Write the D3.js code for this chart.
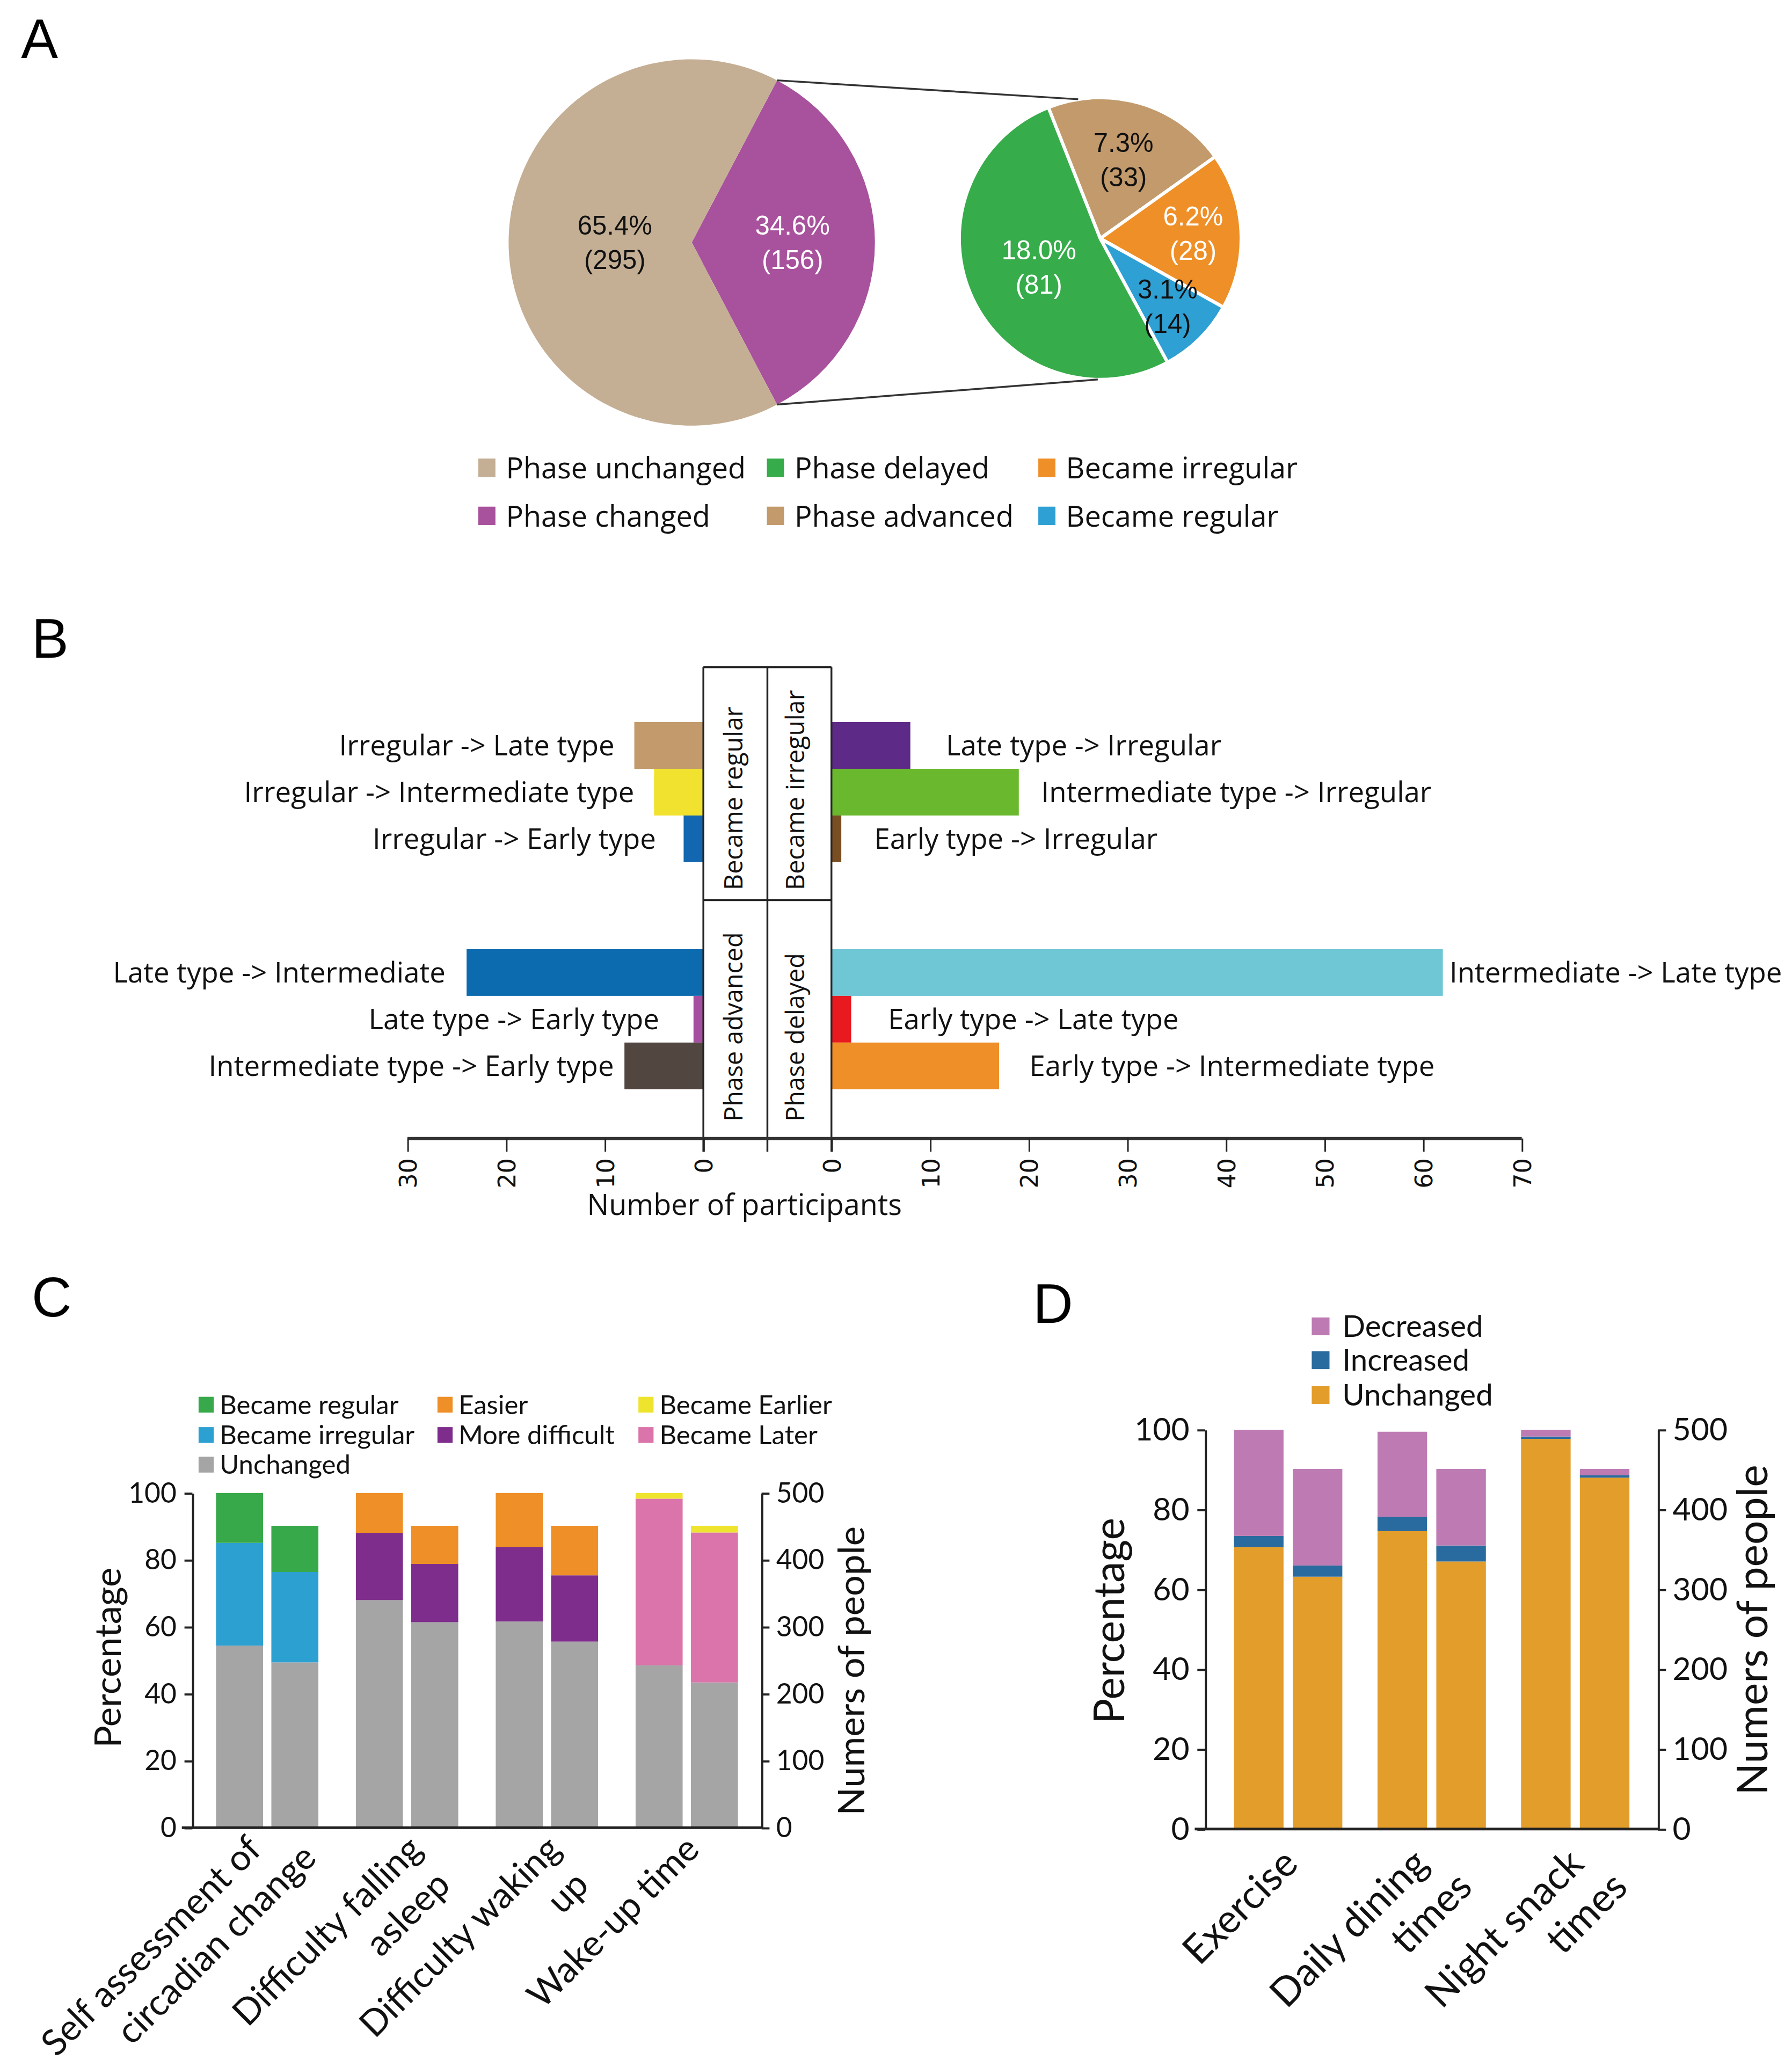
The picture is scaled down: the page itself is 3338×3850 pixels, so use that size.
<!DOCTYPE html>
<html lang="en">
<head>
<meta charset="utf-8">
<script src="https://d3js.org/d3.v7.min.js"></script>
<style>
  body { margin: 0; background: #fff; }
  svg { display: block; }
</style>
</head>
<body>
<div id="my_dataviz"></div>
<script>
// ---------- data ----------
// A: phase change pie and its breakdown
var outerNames = ["Phase changed", "Phase unchanged"];
var outerCounts = [156, 295];
var outerPct = ["34.6%", "65.4%"];
var innerNames = ["Phase advanced", "Became irregular", "Became regular", "Phase delayed"];
var innerCounts = [33, 28, 14, 81];
var innerPct = ["7.3%", "6.2%", "3.1%", "18.0%"];

// B: transitions (number of participants)
var bRegularLabels = ["Irregular -> Late type", "Irregular -> Intermediate type", "Irregular -> Early type"];
var bRegularValues = [7, 5, 2];
var bIrregularLabels = ["Late type -> Irregular", "Intermediate type -> Irregular", "Early type -> Irregular"];
var bIrregularValues = [8, 19, 1];
var bAdvancedLabels = ["Late type -> Intermediate", "Late type -> Early type", "Intermediate type -> Early type"];
var bAdvancedValues = [24, 1, 8];
var bDelayedLabels = ["Intermediate -> Late type", "Early type -> Late type", "Early type -> Intermediate type"];
var bDelayedValues = [62, 2, 17];
var bLeftTicks = [0, 10, 20, 30];
var bRightTicks = [0, 10, 20, 30, 40, 50, 60, 70];

// C: sleep questions, first bar = percentage, second bar = number of people
var cGroups = ["Self assessment of circadian change", "Difficulty falling asleep", "Difficulty waking up", "Wake-up time"];
var cLabelLines = [["Self assessment of", "circadian change"], ["Difficulty falling", "asleep"], ["Difficulty waking", "up"], ["Wake-up time"]];
var cMiddleName = ["Became irregular", "More difficult", "More difficult", "Became Later"];
var cTopName = ["Became regular", "Easier", "Easier", "Became Earlier"];
var cUnchangedPct = [54.4, 68.0, 61.6, 48.5];
var cMiddlePct = [30.7, 20.1, 22.3, 49.8];
var cTopPct = [14.9, 11.9, 16.1, 1.7];
var cUnchangedN = [247, 307, 278, 217];
var cMiddleN = [135, 87, 99, 224];
var cTopN = [69, 57, 74, 10];

// D: lifestyle
var dGroups = ["Exercise", "Daily dining times", "Night snack times"];
var dLabelLines = [["Exercise"], ["Daily dining", "times"], ["Night snack", "times"]];
var dUnchangedPct = [70.6, 74.6, 97.7];
var dIncreasedPct = [2.8, 3.6, 0.6];
var dDecreasedPct = [26.6, 21.3, 1.7];
var dUnchangedN = [316, 335, 440];
var dIncreasedN = [14, 20, 3];
var dDecreasedN = [121, 96, 8];

var pctTicks = [0, 20, 40, 60, 80, 100];
var numTicks = [0, 100, 200, 300, 400, 500];

// ---------- colours ----------
var outerColors = ["#A8519C", "#C4AF95"];
var innerColors = ["#C29A6B", "#EE8F27", "#2FA0D4", "#37AC4B"];
var innerTextColors = ["#111", "#fff", "#111", "#fff"];
var outerTextColors = ["#fff", "#111"];
var bRegularColors = ["#C29A6B", "#F0E22E", "#1267B0"];
var bIrregularColors = ["#5E2A87", "#6AB82E", "#7A4E23"];
var bAdvancedColors = ["#0C6AAF", "#A64FA0", "#524641"];
var bDelayedColors = ["#6FC6D5", "#E8191F", "#EE8F27"];
var cColor = {
  "Became regular": "#37A94A", "Became irregular": "#2DA0D2", "Unchanged": "#A5A5A5",
  "Easier": "#EE8F27", "More difficult": "#7E2D8C",
  "Became Earlier": "#EEE42D", "Became Later": "#DB74AA"
};
var dColor = {"Decreased": "#BE7BB3", "Increased": "#2A6B9F", "Unchanged": "#E39D2B"};

var FONT_A = "'Open Sans', sans-serif";
var FONT_C = "Lato, sans-serif";
var FONT_L = "'Liberation Sans', Arial, sans-serif";

// whole figure drawn in a 1360-wide coordinate system, scaled to 3338 px
var W = 1360, H = 3850 * 1360 / 3338;
var svg = d3.select("#my_dataviz")
  .append("svg")
  .attr("width", 3338)
  .attr("height", 3850)
  .attr("viewBox", "0 0 " + W + " " + H)
  .style("background", "#fff");

// panel letters
[["A", 16, 44], ["B", 24, 499], ["C", 24, 999], ["D", 784, 1004]].forEach(function(p) {
  svg.append("text").attr("x", p[1]).attr("y", p[2]).text(p[0])
    .attr("font-family", FONT_L).attr("font-size", 42).attr("fill", "#000");
});

// ================= A =================
var big = {x: 525, y: 184, r: 139};
var small = {x: 835, y: 181, r: 107};

var a0 = Math.PI / 2 - Math.PI * outerCounts[0] / d3.sum(outerCounts);
var bigArcs = d3.pie().sort(null).startAngle(a0).endAngle(a0 + 2 * Math.PI)(outerCounts);
var s0 = -21.6 * Math.PI / 180;
var smallArcs = d3.pie().sort(null).startAngle(s0).endAngle(s0 + 2 * Math.PI)(innerCounts);

var gBig = svg.append("g").attr("transform", "translate(" + big.x + "," + big.y + ")");
gBig.selectAll("path").data(bigArcs).enter().append("path")
  .attr("d", d3.arc().innerRadius(0).outerRadius(big.r))
  .style("fill", function(d, i) { return outerColors[i]; });

var gSmall = svg.append("g").attr("transform", "translate(" + small.x + "," + small.y + ")");
gSmall.selectAll("path").data(smallArcs).enter().append("path")
  .attr("d", d3.arc().innerRadius(0).outerRadius(small.r))
  .style("fill", function(d, i) { return innerColors[i]; })
  .style("stroke", "#fff").style("stroke-width", 2.5).style("stroke-linejoin", "round");

function pieLabels(g, arcs, R, fracs, pcts, counts, colors) {
  arcs.forEach(function(a, i) {
    var m = (a.startAngle + a.endAngle) / 2;
    var x = Math.sin(m) * R * fracs[i], y = -Math.cos(m) * R * fracs[i];
    g.append("text").attr("x", x).attr("y", y - 6).attr("text-anchor", "middle")
      .attr("font-family", FONT_L).attr("font-size", 20).attr("fill", colors[i]).text(pcts[i]);
    g.append("text").attr("x", x).attr("y", y + 20).attr("text-anchor", "middle")
      .attr("font-family", FONT_L).attr("font-size", 20).attr("fill", colors[i]).text("(" + counts[i] + ")");
  });
}
pieLabels(gBig, bigArcs, big.r, [0.55, 0.42], outerPct, outerCounts, outerTextColors);
pieLabels(gSmall, smallArcs, small.r, [0.58, 0.66, 0.68, 0.48], innerPct, innerCounts, innerTextColors);

// connector lines from the changed slice to the breakdown pie
function onCircle(c, ang) { return [c.x + Math.sin(ang) * c.r, c.y - Math.cos(ang) * c.r]; }
[[onCircle(big, bigArcs[0].startAngle), onCircle(small, -9 * Math.PI / 180)],
 [onCircle(big, bigArcs[0].endAngle), onCircle(small, 181 * Math.PI / 180)]].forEach(function(l) {
  svg.append("line").attr("x1", l[0][0]).attr("y1", l[0][1]).attr("x2", l[1][0]).attr("y2", l[1][1])
    .style("stroke", "#333").style("stroke-width", 1.4);
});

// legend A
var legA = [
  {name: outerNames[1], color: outerColors[1], col: 0, row: 0},
  {name: outerNames[0], color: outerColors[0], col: 0, row: 1},
  {name: innerNames[3], color: innerColors[3], col: 1, row: 0},
  {name: innerNames[0], color: innerColors[0], col: 1, row: 1},
  {name: innerNames[1], color: innerColors[1], col: 2, row: 0},
  {name: innerNames[2], color: innerColors[2], col: 2, row: 1}
];
var legAX = [363, 582, 788], legAY = [363, 399.5];
legA.forEach(function(d) {
  svg.append("rect").attr("x", legAX[d.col]).attr("y", legAY[d.row] - 15)
    .attr("width", 13).attr("height", 14).style("fill", d.color);
  svg.append("text").attr("x", legAX[d.col] + 21).attr("y", legAY[d.row])
    .attr("font-family", FONT_A).attr("font-size", 22).attr("fill", "#111").text(d.name);
});

// ================= B =================
var xl = d3.scaleLinear().domain([0, 30]).range([533.8, 309.2]);
var xr = d3.scaleLinear().domain([0, 70]).range([631, 1154.9]);
var yTop = d3.scaleBand().domain([0, 1, 2]).range([548, 654.3]);
var yBot = d3.scaleBand().domain([0, 1, 2]).range([720.3, 826.6]);
var axisY = 864, boxTop = 506.3, boxMid = 683.1;

function bBars(values, labels, colors, yScale, side, gaps) {
  values.forEach(function(v, i) {
    var x = side < 0 ? xl(v) : xr(0);
    var w = side < 0 ? xl(0) - xl(v) : xr(v) - xr(0);
    svg.append("rect").attr("x", x).attr("y", yScale(i))
      .attr("width", w).attr("height", yScale.bandwidth()).style("fill", colors[i]);
    svg.append("text")
      .attr("x", side < 0 ? xl(v) - gaps[i] : xr(v) + gaps[i])
      .attr("y", yScale(i) + yScale.bandwidth() / 2).attr("dy", "0.35em")
      .attr("text-anchor", side < 0 ? "end" : "start")
      .attr("font-family", FONT_A).attr("font-size", 21.5).attr("fill", "#111")
      .text(labels[i]);
  });
}
bBars(bRegularValues, bRegularLabels, bRegularColors, yTop, -1, [15, 15, 21]);
bBars(bIrregularValues, bIrregularLabels, bIrregularColors, yTop, 1, [27, 17, 25]);
bBars(bAdvancedValues, bAdvancedLabels, bAdvancedColors, yBot, -1, [16, 26, 8]);
bBars(bDelayedValues, bDelayedLabels, bDelayedColors, yBot, 1, [5, 28, 23]);

// the box with the group names
var boxMidX = (xl(0) + xr(0)) / 2;
[xl(0), boxMidX, xr(0)].forEach(function(x) {
  svg.append("line").attr("x1", x).attr("x2", x).attr("y1", boxTop).attr("y2", axisY + 10)
    .style("stroke", "#222").style("stroke-width", 1.4);
});
[boxTop, boxMid].forEach(function(y) {
  svg.append("line").attr("x1", xl(0)).attr("x2", xr(0)).attr("y1", y).attr("y2", y)
    .style("stroke", "#222").style("stroke-width", 1.4);
});
[["Became regular", 563.5, 675.5], ["Became irregular", 610.5, 675.5],
 ["Phase advanced", 563.5, 851], ["Phase delayed", 610.5, 851]].forEach(function(t) {
  svg.append("text").attr("transform", "translate(" + t[1] + "," + t[2] + ") rotate(-90)")
    .attr("font-family", FONT_A).attr("font-size", 19).attr("fill", "#111").text(t[0]);
});

// axis
svg.append("line").attr("x1", xl(30)).attr("x2", xr(70)).attr("y1", axisY).attr("y2", axisY)
  .style("stroke", "#333").style("stroke-width", 2.4);
function bAxis(scale, ticks) {
  var g = svg.append("g").attr("transform", "translate(0," + axisY + ")")
    .call(d3.axisBottom(scale).tickValues(ticks).tickSize(10).tickSizeOuter(0));
  g.select(".domain").remove();
  g.selectAll(".tick line").style("stroke", "#222").style("stroke-width", 1.2);
  g.selectAll(".tick text")
    .attr("transform", "rotate(-90)").attr("text-anchor", "end")
    .attr("x", -15).attr("y", 0).attr("dy", "0.36em")
    .attr("font-family", "'DejaVu Sans', sans-serif").attr("font-size", 18).attr("fill", "#111");
}
bAxis(xl, bLeftTicks);
bAxis(xr, bRightTicks);
svg.append("text").attr("x", 565).attr("y", 922).attr("text-anchor", "middle")
  .attr("font-family", FONT_A).attr("font-size", 22).attr("fill", "#111").text("Number of participants");

// ================= shared for C and D =================
function stackedPanel(opt) {
  var x0 = d3.scaleBand().domain(opt.groups).range([opt.left, opt.right])
    .paddingInner(opt.padIn).paddingOuter(opt.padOut);
  var x1 = d3.scaleBand().domain(["pct", "n"]).range([0, x0.bandwidth()]).paddingInner(opt.padBar);
  var yP = d3.scaleLinear().domain([0, 100]).range([opt.bottom, opt.top]);
  var yN = d3.scaleLinear().domain([0, 500]).range([opt.bottom, opt.top]);

  var series = d3.stack().keys(opt.keys)(opt.rows);
  series.forEach(function(s) {
    svg.append("g").selectAll("rect").data(s).enter().append("rect")
      .attr("x", function(d) { return x0(d.data.group) + x1(d.data.kind); })
      .attr("width", x1.bandwidth())
      .attr("y", function(d) { return (d.data.kind == "pct" ? yP : yN)(d[1]); })
      .attr("height", function(d) { var y = d.data.kind == "pct" ? yP : yN; return y(d[0]) - y(d[1]); })
      .style("fill", function(d) { return opt.color(s.key, d.data.gi); });
  });

  var gl = svg.append("g").attr("transform", "translate(" + opt.left + ",0)")
    .call(d3.axisLeft(yP).tickValues(pctTicks).tickSize(6).tickSizeOuter(0).tickPadding(6));
  var gr = svg.append("g").attr("transform", "translate(" + opt.right + ",0)")
    .call(d3.axisRight(yN).tickValues(numTicks).tickSize(6).tickSizeOuter(0).tickPadding(5));
  [gl, gr].forEach(function(g) {
    g.selectAll(".domain, .tick line").style("stroke", "#222").style("stroke-width", 1.6);
    g.selectAll(".tick text").attr("font-family", FONT_C).attr("font-size", opt.tickFont).attr("fill", "#111");
  });
  svg.append("line").attr("x1", opt.left - 8).attr("x2", opt.right).attr("y1", opt.bottom).attr("y2", opt.bottom)
    .style("stroke", "#222").style("stroke-width", 2);

  // category labels, rotated 45 degrees
  opt.groups.forEach(function(g, i) {
    var cx = x0(g) + x0.bandwidth() / 2 + opt.labelDx[i];
    var t = svg.append("g").attr("transform", "translate(" + cx + "," + (opt.bottom + opt.labelDy) + ") rotate(-45)");
    opt.labelLines[i].forEach(function(line, j) {
      t.append("text").attr("x", j * opt.line2Along[i]).attr("y", j * opt.lineH)
        .attr("text-anchor", "end").attr("font-family", FONT_C).attr("font-size", opt.labelFont)
        .attr("fill", "#111").text(line);
    });
  });

  // axis titles
  [["Percentage", opt.titleX[0], opt.titleY[0]], ["Numers of people", opt.titleX[1], opt.titleY[1]]].forEach(function(t) {
    svg.append("text").attr("transform", "translate(" + t[1] + "," + t[2] + ") rotate(-90)")
      .attr("text-anchor", "middle").attr("dy", "0.35em")
      .attr("font-family", FONT_C).attr("font-size", opt.titleFont).attr("fill", "#111").text(t[0]);
  });
}

// ================= C =================
var cRows = [];
cGroups.forEach(function(g, i) {
  cRows.push({group: g, gi: i, kind: "pct", unchanged: cUnchangedPct[i], middle: cMiddlePct[i], top: cTopPct[i]});
  cRows.push({group: g, gi: i, kind: "n", unchanged: cUnchangedN[i], middle: cMiddleN[i], top: cTopN[i]});
});
stackedPanel({
  groups: cGroups, rows: cRows, keys: ["unchanged", "middle", "top"],
  color: function(k, gi) {
    if (k == "unchanged") return cColor["Unchanged"];
    return cColor[k == "middle" ? cMiddleName[gi] : cTopName[gi]];
  },
  left: 146, right: 578, top: 1133, bottom: 1387,
  padIn: 0.268, padOut: 0.169, padBar: 0.15,
  tickFont: 21, labelFont: 27.5, lineH: 34,
  labelDx: [-3, 13, 12, 11], labelDy: 18, line2Along: [25, -4, -4, 0],
  labelLines: cLabelLines,
  titleFont: 28, titleX: [82, 646], titleY: [1258, 1268]
});

// legend C
var legC = [
  {name: "Became regular", col: 0, row: 0}, {name: "Became irregular", col: 0, row: 1}, {name: "Unchanged", col: 0, row: 2},
  {name: "Easier", col: 1, row: 0}, {name: "More difficult", col: 1, row: 1},
  {name: "Became Earlier", col: 2, row: 0}, {name: "Became Later", col: 2, row: 1}
];
var legCX = [150.7, 332, 484.5], legCY = [1066, 1089, 1111.5];
legC.forEach(function(d) {
  svg.append("rect").attr("x", legCX[d.col]).attr("y", legCY[d.row] - 6)
    .attr("width", 11.5).attr("height", 12).style("fill", cColor[d.name]);
  svg.append("text").attr("x", legCX[d.col] + 16).attr("y", legCY[d.row]).attr("dy", "0.35em")
    .attr("font-family", FONT_C).attr("font-size", 20).attr("fill", "#111").text(d.name);
});

// ================= D =================
var dRows = [];
dGroups.forEach(function(g, i) {
  dRows.push({group: g, gi: i, kind: "pct", Unchanged: dUnchangedPct[i], Increased: dIncreasedPct[i], Decreased: dDecreasedPct[i]});
  dRows.push({group: g, gi: i, kind: "n", Unchanged: dUnchangedN[i], Increased: dIncreasedN[i], Decreased: dDecreasedN[i]});
});
stackedPanel({
  groups: dGroups, rows: dRows, keys: ["Unchanged", "Increased", "Decreased"],
  color: function(k) { return dColor[k]; },
  left: 914.7, right: 1258.4, top: 1085, bottom: 1388,
  padIn: 0.245, padOut: 0.2, padBar: 0.157,
  tickFont: 24, labelFont: 30, lineH: 36,
  labelDx: [9, -1, 8], labelDy: 28, line2Along: [11, 11, 11],
  labelLines: dLabelLines,
  titleFont: 32, titleX: [842, 1330], titleY: [1230, 1237]
});

// legend D
var legDNames = ["Decreased", "Increased", "Unchanged"];
var legDY = [1006.6, 1032.3, 1058.7];
legDNames.forEach(function(n, i) {
  svg.append("rect").attr("x", 995.5).attr("y", legDY[i] - 6.8)
    .attr("width", 13.5).attr("height", 13.5).style("fill", dColor[n]);
  svg.append("text").attr("x", 1018.7).attr("y", legDY[i]).attr("dy", "0.35em")
    .attr("font-family", FONT_C).attr("font-size", 23).attr("fill", "#111").text(n);
});
</script>
</body>
</html>
